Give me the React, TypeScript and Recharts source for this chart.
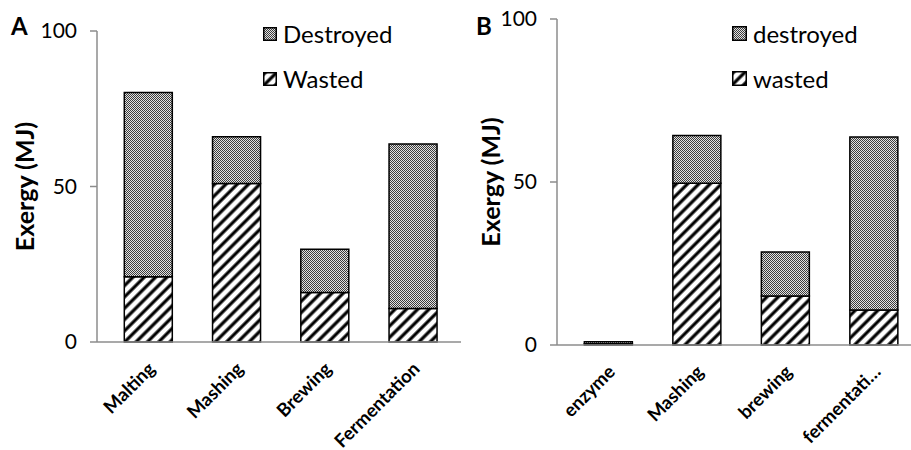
import { Bar, BarChart, XAxis, YAxis } from "recharts"

const stagesA = ["Malting", "Mashing", "Brewing", "Fermentation"]
const wastedA = [21, 51, 15.9, 10.8]
const destroyedA = [59.2, 15, 13.9, 52.9]

const stagesB = ["enzyme", "Mashing", "brewing", "fermentati…"]
const wastedB = [0.4, 49.6, 15, 10.7]
const destroyedB = [0.6, 14.7, 13.5, 53.1]

const yTicks = [0, 50, 100]

const FONT = "Lato, 'Open Sans', sans-serif"
const AXIS = "#8c8c8c"

const dataA = stagesA.map((stage, i) => ({ stage, wasted: wastedA[i], destroyed: destroyedA[i] }))
const dataB = stagesB.map((stage, i) => ({ stage, wasted: wastedB[i], destroyed: destroyedB[i] }))

function Patterns() {
  return (
    <defs>
      <pattern id="dots" width="2" height="2" patternUnits="userSpaceOnUse">
        <rect width="2" height="2" fill="#e2e2e2" />
        <rect width="1" height="1" fill="#3c3c3c" />
        <rect x="1" y="1" width="1" height="1" fill="#3c3c3c" />
      </pattern>
      <pattern id="stripes" width="8" height="8" patternUnits="userSpaceOnUse" patternTransform="rotate(45)">
        <rect width="8" height="8" fill="#fff" />
        <line x1="2" y1="0" x2="2" y2="8" stroke="#000" strokeWidth="3.2" />
      </pattern>
    </defs>
  )
}

const CatTick = ({ x, y, payload }: any) => {
  const ax = x + 8
  const ay = y + 26
  return (
    <text
      x={ax}
      y={ay}
      transform={`rotate(-45, ${ax}, ${ay})`}
      textAnchor="end"
      fontFamily={FONT}
      fontWeight="bold"
      fontSize={18.5}
      fill="#000"
    >
      {payload.value}
    </text>
  )
}

function LegendBox({ names, swatch, left }: any) {
  return (
    <div style={{ position: "absolute", left, top: 11, fontFamily: FONT, fontSize: 24, color: "#000" }}>
      {names.map((n: string, i: number) => (
        <div key={n} style={{ display: "flex", alignItems: "center", height: 45 }}>
          <svg width={swatch} height={swatch} style={{ marginRight: 6 }}>
            <rect
              x={0.75}
              y={0.75}
              width={swatch - 1.5}
              height={swatch - 1.5}
              fill={i === 0 ? "url(#dots)" : "url(#stripes)"}
              stroke="#000"
              strokeWidth={1.5}
            />
          </svg>
          <span>{n}</span>
        </div>
      ))}
    </div>
  )
}

function Panel({
  data,
  letter,
  width,
  yWidth,
  top,
  xHeight,
  padRight,
  right,
  names,
  legendLeft,
  swatch,
  letterX,
  labelX,
}: any) {
  return (
    <div style={{ position: "relative", width, height: 450 }}>
      <BarChart
        width={width}
        height={450}
        data={data}
        margin={{ top, right, left: 0, bottom: 0 }}
        barCategoryGap="23%"
      >
        <Patterns />
        <XAxis
          dataKey="stage"
          height={xHeight}
          tick={<CatTick />}
          tickLine={false}
          tickSize={0}
          axisLine={{ stroke: AXIS, strokeWidth: 1.5 }}
          interval={0}
          padding={{ left: 7, right: padRight }}
        />
        <YAxis
          width={yWidth}
          domain={[0, 100]}
          ticks={yTicks}
          tickSize={7}
          tickMargin={13}
          tickLine={{ stroke: AXIS, strokeWidth: 1.5 }}
          axisLine={{ stroke: AXIS, strokeWidth: 1.5 }}
          tick={{ fontFamily: FONT, fontSize: 21, fill: "#000" }}
          label={{
            content: ({ viewBox }: any) => {
              const cy = viewBox.y + viewBox.height / 2
              return (
                <text
                  x={labelX}
                  y={cy}
                  transform={`rotate(-90, ${labelX}, ${cy})`}
                  textAnchor="middle"
                  dominantBaseline="central"
                  fontFamily={FONT}
                  fontWeight="bold"
                  fontSize={25}
                  fill="#000"
                >
                  Exergy (MJ)
                </text>
              )
            },
          }}
        />
        <Bar dataKey="wasted" stackId="s" fill="url(#stripes)" stroke="#000" strokeWidth={1.5} isAnimationActive={false} />
        <Bar dataKey="destroyed" stackId="s" fill="url(#dots)" stroke="#000" strokeWidth={1.5} isAnimationActive={false} />
      </BarChart>
      <LegendBox names={names} swatch={swatch} left={legendLeft} />
      <div
        style={{
          position: "absolute",
          left: letterX,
          top: 13,
          fontFamily: FONT,
          fontWeight: "bold",
          fontSize: 24,
          lineHeight: "26px",
        }}
      >
        {letter}
      </div>
    </div>
  )
}

export default function App() {
  return (
    <div
      style={{
        position: "fixed",
        left: 0,
        top: 0,
        width: 911,
        height: 450,
        overflow: "hidden",
        background: "#fff",
      }}
    >
      <div style={{ position: "absolute", left: 0, top: 0 }}>
        <Panel
          data={dataA}
          letter="A"
          width={465}
          yWidth={97}
          top={31}
          xHeight={108}
          padRight={4}
          right={4}
          names={["Destroyed", "Wasted"]}
          legendLeft={263}
          swatch={14}
          letterX={11}
          labelX={24}
        />
      </div>
      <div style={{ position: "absolute", left: 450, top: 0 }}>
        <Panel
          data={dataB}
          letter="B"
          width={470}
          yWidth={107}
          top={19}
          xHeight={105}
          padRight={0}
          right={2}
          names={["destroyed", "wasted"]}
          legendLeft={282}
          swatch={15}
          letterX={26}
          labelX={40}
        />
      </div>
    </div>
  )
}
